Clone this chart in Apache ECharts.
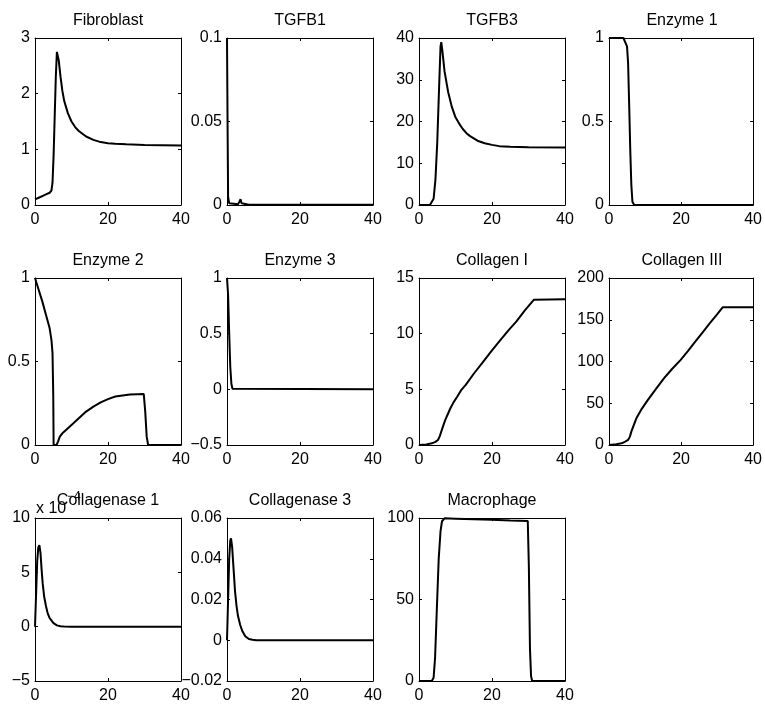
<!DOCTYPE html>
<html>
<head>
<meta charset="utf-8">
<script src="https://cdn.jsdelivr.net/npm/echarts@6/dist/echarts.min.js"></script>
<style>
  html, body { margin: 0; padding: 0; background: #fff; }
  #main { width: 765px; height: 704px; }
</style>
</head>
<body>
<div id="main"></div>
<script>
// curves, [time, value]
var fibroblast = [[0,0.10],[1,0.13],[2,0.16],[3,0.19],[4,0.22],[4.5,0.26],[4.8,0.4],[5.1,0.9],[5.4,1.6],[5.7,2.3],[6.0,2.75],[6.2,2.78],[6.5,2.6],[7,2.3],[7.5,2.05],[8,1.87],[9,1.65],[10,1.5],[11,1.4],[12,1.33],[13,1.28],[14,1.23],[16,1.17],[18,1.13],[20,1.11],[22,1.10],[25,1.09],[30,1.08],[35,1.075],[40,1.07]];
var tgfb1 = [[0,0.1],[0.15,0.05],[0.3,0.005],[0.6,0.001],[1,0.0005],[3,0.0005],[3.4,0.002],[3.7,0.0035],[4,0.001],[4.3,0.0003],[6,0.0002],[40,0.0002]];
var tgfb3 = [[0,0],[3,0],[3.5,0.2],[4,1.5],[4.5,6],[5,15],[5.5,28],[5.9,38],[6.1,39],[6.4,37],[7,32],[7.5,29.5],[8,27],[9,23.5],[10,21],[11,19.5],[12,18.2],[13,17.2],[14,16.5],[16,15.4],[18,14.8],[20,14.4],[22,14.1],[25,13.95],[30,13.85],[40,13.8]];
var enzyme1 = [[0,1],[4,1],[4.5,0.99],[5,0.95],[5.3,0.85],[5.6,0.6],[5.9,0.33],[6.2,0.12],[6.5,0.02],[7,0],[40,0]];
var enzyme2 = [[0,1],[1,0.93],[2,0.86],[3,0.78],[4,0.7],[4.5,0.63],[4.8,0.55],[5.0,0.3],[5.1,0],[5.9,0],[6.3,0.02],[6.8,0.05],[7.5,0.07],[8.5,0.09],[10,0.12],[12,0.16],[14,0.2],[16,0.23],[18,0.255],[20,0.275],[22,0.29],[24,0.297],[26,0.302],[28,0.304],[29.8,0.305],[30.2,0.2],[30.6,0.05],[31,0],[40,0]];
var enzyme3 = [[0,1],[0.3,0.85],[0.6,0.5],[0.9,0.2],[1.2,0.05],[1.5,0.005],[2,0],[40,0]];
var collagen1 = [[0,0],[2,0.05],[3.5,0.15],[4.5,0.28],[5.2,0.45],[5.7,0.8],[6.1,1.2],[6.6,1.7],[7.2,2.25],[8,2.85],[8.6,3.3],[9.5,3.85],[10.5,4.35],[11.5,4.9],[12.8,5.4],[15,6.4],[17.4,7.4],[20,8.5],[22,9.3],[24.5,10.3],[26.7,11.1],[29,12.1],[31.5,13.05],[32,13.1],[40,13.1]];
var collagen3 = [[0,0],[2,1],[3.5,2],[4.5,4],[5.3,6],[5.8,10],[6.2,16],[6.9,24],[7.6,32],[8.9,42],[10.8,54],[13,67],[15.3,80],[17.5,91],[19.9,102],[22,113],[24,124],[26,135],[28,146],[30,156.5],[31.6,165],[40,165]];
var collagenase1 = [[0,0],[0.3,3],[0.6,6],[0.9,7.3],[1.2,7.5],[1.5,6.8],[1.8,5.3],[2.1,4],[2.5,2.8],[3,1.9],[3.5,1.2],[4,0.8],[5,0.35],[6,0.12],[7,0.04],[8,0.01],[10,0],[40,0]]; // x 1e-4
var collagenase3 = [[0,0],[0.3,0.02],[0.6,0.04],[0.9,0.049],[1.1,0.05],[1.4,0.046],[1.8,0.035],[2.2,0.024],[2.6,0.017],[3,0.012],[3.6,0.0076],[4.2,0.0045],[5,0.002],[6,0.0006],[7,0.0002],[8,0],[40,0]];
var macrophage = [[0,0],[3.5,0],[4,2],[4.4,14],[4.9,45],[5.4,75],[5.9,92],[6.3,98],[7,99.8],[10,99.6],[15,99.2],[20,98.9],[25,98.5],[29.8,98.2],[30.1,70],[30.4,20],[30.7,3],[31,0],[40,0]];

var titles = ['Fibroblast', 'TGFB1', 'TGFB3', 'Enzyme 1', 'Enzyme 2', 'Enzyme 3',
              'Collagen I', 'Collagen III', 'Collagenase 1', 'Collagenase 3', 'Macrophage'];
var curves = [fibroblast, tgfb1, tgfb3, enzyme1, enzyme2, enzyme3,
              collagen1, collagen3, collagenase1, collagenase3, macrophage];
var yMin  = [0, 0, 0, 0, 0, -0.5, 0, 0, -5, -0.02, 0];
var yMax  = [3, 0.1, 40, 1, 1, 1, 15, 200, 10, 0.06, 100];
var yStep = [1, 0.05, 10, 0.5, 0.5, 0.5, 5, 50, 5, 0.02, 50];
var xMin = 0, xMax = 40, xStep = 20;

(function () {
    var cols = [35, 227, 419, 609];
    var rows = [38, 278, 518];
    var W = 146, H = 167;
    var FONT = "'Liberation Sans', Arial, Helvetica, sans-serif";

    function fmt(v) {
        return String(Math.round(v * 1e6) / 1e6).replace('-', '\u2212');
    }

    function axis(i, pos, min, max, step, labels, margin) {
        return {
            type: 'value', gridIndex: i, position: pos, min: min, max: max, interval: step,
            axisLine: { show: true, onZero: false, lineStyle: { color: '#000', width: 1 } },
            axisTick: { show: true, inside: true, length: 3, lineStyle: { color: '#000', width: 1 } },
            splitLine: { show: false },
            axisLabel: labels
                ? { show: true, margin: margin, color: '#000', fontSize: 16, fontFamily: FONT, formatter: fmt }
                : { show: false }
        };
    }

    var grid = [], xAxis = [], yAxis = [], series = [], graphic = [];
    for (var i = 0; i < titles.length; i++) {
        var gx = cols[i % 4], gy = rows[Math.floor(i / 4)];
        grid.push({ left: gx, top: gy, width: W, height: H });
        graphic.push({
            type: 'text', x: gx + W / 2, y: gy - 25,
            style: { text: titles[i], fontSize: 16, fontFamily: FONT, fill: '#000', align: 'center', verticalAlign: 'top' }
        });
        xAxis.push(axis(i, 'bottom', xMin, xMax, xStep, true, 7));
        xAxis.push(axis(i, 'top', xMin, xMax, xStep, false));
        yAxis.push(axis(i, 'left', yMin[i], yMax[i], yStep[i], true, 5));
        yAxis.push(axis(i, 'right', yMin[i], yMax[i], yStep[i], false));
        series.push({
            type: 'line', xAxisIndex: 2 * i, yAxisIndex: 2 * i, data: curves[i],
            showSymbol: false, symbol: 'none',
            lineStyle: { color: '#000', width: 2 }
        });
    }
    // exponent of the Collagenase 1 axis
    graphic.push({ type: 'text', x: 36, y: 501, style: { text: 'x 10', fontSize: 16, fontFamily: FONT, fill: '#000' } });
    graphic.push({ type: 'text', x: 67, y: 491, style: { text: '\u22124', fontSize: 12, fontFamily: FONT, fill: '#000' } });

    var myChart = echarts.init(document.getElementById('main'));
    myChart.setOption({
        animation: false,
        backgroundColor: '#fff',
        grid: grid,
        xAxis: xAxis,
        yAxis: yAxis,
        series: series,
        graphic: graphic
    });
    window.addEventListener('resize', function () { myChart.resize(); });
})();
</script>
</body>
</html>
